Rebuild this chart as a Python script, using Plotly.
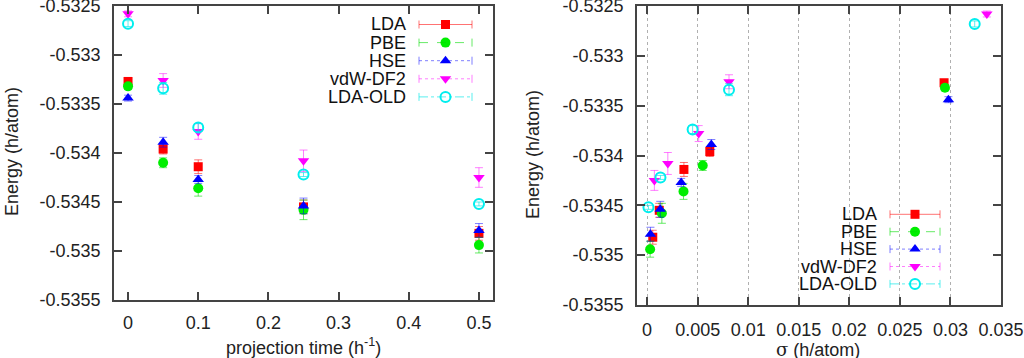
import plotly.graph_objects as go

# ---------------- data ----------------
proj_time = [0.0, 0.05, 0.1, 0.25, 0.5]
series_names = ["LDA", "PBE", "HSE", "vdW-DF2", "LDA-OLD"]

energy_lda = [-0.53327, -0.53396, -0.53414, -0.53455, -0.53482]
energy_pbe = [-0.53332, -0.53410, -0.53436, -0.53458, -0.53494]
energy_hse = [-0.53344, -0.53389, -0.53427, -0.53454, -0.53479]
energy_vdw = [-0.53258, -0.53326, -0.53378, -0.53408, -0.53425]
energy_old = [-0.53268, -0.53334, -0.53374, -0.53422, -0.53452]

err_lda = [0.00003, 0.00005, 0.00007, 0.00007, 0.00007]
err_pbe = [0.00003, 0.00005, 0.00008, 0.00010, 0.00008]
err_hse = [0.00003, 0.00005, 0.00004, 0.00008, 0.00007]
err_vdw = [0.00003, 0.00007, 0.00008, 0.00011, 0.00010]
err_old = [0.00003, 0.00006, 0.00004, 0.00002, 0.00002]

sigma_lda = [0.02937, 0.0062, 0.00364, 0.0012, 0.00056]
sigma_pbe = [0.02946, 0.0055, 0.0036, 0.00146, 0.0003]
sigma_hse = [0.0298, 0.00635, 0.00337, 0.0013, 0.00033]
sigma_vdw = [0.0336, 0.0081, 0.0051, 0.00205, 0.00072]
sigma_old = [0.0324, 0.0081, 0.0045, 0.00132, 0.00013]

y_tickvals = [-0.5325, -0.533, -0.5335, -0.534, -0.5345, -0.535, -0.5355]
y_ticktext = ["-0.5325", "-0.533", "-0.5335", "-0.534", "-0.5345", "-0.535", "-0.5355"]
x1_tickvals = [0, 0.1, 0.2, 0.3, 0.4, 0.5]
x1_ticktext = ["0", "0.1", "0.2", "0.3", "0.4", "0.5"]
x2_tickvals = [0, 0.005, 0.01, 0.015, 0.02, 0.025, 0.03, 0.035]
x2_ticktext = ["0", "0.005", "0.01", "0.015", "0.02", "0.025", "0.03", "0.035"]

# ---------------- styles ----------------
energies = [energy_lda, energy_pbe, energy_hse, energy_vdw, energy_old]
errors = [err_lda, err_pbe, err_hse, err_vdw, err_old]
sigmas = [sigma_lda, sigma_pbe, sigma_hse, sigma_vdw, sigma_old]
colors = ["#ff0000", "#00ee00", "#0000ff", "#ff00ff", "#00eeee"]
light = ["rgba(255,0,0,0.55)", "rgba(0,220,0,0.6)", "rgba(0,0,255,0.5)",
         "rgba(255,0,255,0.5)", "rgba(0,230,230,0.65)"]
symbols = ["square", "circle", "triangle-up", "triangle-down", "circle-open-dot"]
sizes = [9, 10, 10, 10, 10]
dashes = ["solid", "dash", "3px,3px", "dot", "dashdot"]

W, H = 1024, 358
FONT = "Liberation Sans, Arial, Helvetica, sans-serif"
FS = 18

def px(x):
    return x / W

def py(y):
    return 1 - y / H

fig = go.Figure()

def marker_for(i):
    if symbols[i] == "circle-open-dot":
        return dict(symbol="circle-open", size=sizes[i], color=colors[i], line=dict(width=2, color=colors[i]))
    return dict(symbol=symbols[i], size=sizes[i], color=colors[i], line=dict(width=0))

for i in range(5):
    fig.add_trace(go.Scatter(
        x=proj_time, y=energies[i], mode="markers", xaxis="x", yaxis="y",
        marker=marker_for(i), showlegend=False, cliponaxis=False,
        error_y=dict(type="data", array=errors[i], visible=True, color=light[i], thickness=1, width=4)))
    fig.add_trace(go.Scatter(
        x=sigmas[i], y=energies[i], mode="markers", xaxis="x2", yaxis="y2",
        marker=marker_for(i), showlegend=False, cliponaxis=False,
        error_y=dict(type="data", array=errors[i], visible=True, color=light[i], thickness=1, width=4)))

# ---------------- axes ----------------
axis_common = dict(showline=True, linecolor="#444444", linewidth=1.5, mirror="ticks",
                   ticks="inside", ticklen=8, tickwidth=1.5, tickcolor="#444444",
                   zeroline=False, automargin=False, ticklabeloverflow="allow",
                   tickfont=dict(family=FONT, size=FS, color="#222222"))

eps = 1e-9
fig.update_layout(
    width=W, height=H, margin=dict(l=0, r=0, t=0, b=0),
    paper_bgcolor="white", plot_bgcolor="rgba(0,0,0,0)",
    xaxis=dict(domain=[px(114), px(493)], range=[-0.02, 0.52], anchor="y",
               tickvals=x1_tickvals, ticktext=x1_ticktext, showgrid=False,
               ticklabelstandoff=6, **axis_common),
    yaxis=dict(domain=[py(300), py(6)], range=[-0.5355 - eps, -0.5325 + eps], anchor="x",
               tickvals=y_tickvals, ticktext=y_ticktext, showgrid=False,
               ticklabelstandoff=8, **axis_common),
    xaxis2=dict(domain=[px(637), px(1001)], range=[-0.001, 0.035 + eps], anchor="y2",
                tickvals=x2_tickvals, ticktext=x2_ticktext, showgrid=True,
                gridcolor="#b0b0b0", griddash="dot", gridwidth=1,
                ticklabelstandoff=8, **axis_common),
    yaxis2=dict(domain=[py(305), py(6)], range=[-0.5355 - eps, -0.5325 + eps], anchor="x2",
                tickvals=y_tickvals, ticktext=y_ticktext, showgrid=False,
                ticklabelstandoff=8, **axis_common),
    xaxis3=dict(domain=[0, 1], range=[0, 1], visible=False, anchor="y3", fixedrange=True, automargin=False),
    yaxis3=dict(domain=[0, 1], range=[0, 1], visible=False, anchor="x3", fixedrange=True, automargin=False),
)

# ---------------- axis titles ----------------
title_font = dict(family=FONT, size=FS, color="#222222")
ann = []
ann.append(dict(text="Energy (h/atom)", x=px(12), y=py(152), xref="paper", yref="paper",
                textangle=-90, showarrow=False, font=title_font, xanchor="center", yanchor="middle"))
ann.append(dict(text="Energy (h/atom)", x=px(533), y=py(155), xref="paper", yref="paper",
                textangle=-90, showarrow=False, font=title_font, xanchor="center", yanchor="middle"))
ann.append(dict(text="projection time (h<sup>-1</sup>)", x=px(303), y=py(346), xref="paper", yref="paper",
                showarrow=False, font=title_font, xanchor="center", yanchor="middle"))
ann.append(dict(text="<span style='font-family:DejaVu Serif, serif'>σ</span> (h/atom)", x=px(818), y=py(349),
                xref="paper", yref="paper", showarrow=False, font=title_font,
                xanchor="center", yanchor="middle"))

# ---------------- custom gnuplot-like legends ----------------
legend_boxes = [
    dict(text_right=408, x0=419, x1=472, y0=24.5, dy=18.1),
    dict(text_right=879, x0=890, x1=940, y0=214.3, dy=17.4),
]
shapes = []
leg_font = dict(family=FONT, size=FS, color="#111111")
for lb in legend_boxes:
    for i, name in enumerate(series_names):
        yy = lb["y0"] + i * lb["dy"]
        ann.append(dict(text=name, x=px(lb["text_right"]), y=py(yy), xref="paper", yref="paper",
                        showarrow=False, font=leg_font, xanchor="right", yanchor="middle"))
        shapes.append(dict(type="line", xref="paper", yref="paper", x0=px(lb["x0"]), x1=px(lb["x1"]),
                           y0=py(yy), y1=py(yy), line=dict(color=light[i], width=1, dash=dashes[i])))
        for xe in (lb["x0"], lb["x1"]):
            shapes.append(dict(type="line", xref="paper", yref="paper", x0=px(xe), x1=px(xe),
                               y0=py(yy - 4), y1=py(yy + 4), line=dict(color=light[i], width=1)))
    for i in range(5):
        yy = lb["y0"] + i * lb["dy"]
        fig.add_trace(go.Scatter(x=[px((lb["x0"] + lb["x1"]) / 2)], y=[py(yy)], mode="markers",
                                 xaxis="x3", yaxis="y3", marker=marker_for(i), showlegend=False,
                                 hoverinfo="skip"))

fig.update_layout(annotations=ann, shapes=shapes, hovermode=False)
fig.write_html("out.html", config={"displayModeBar": False},
               post_script="document.body.style.margin='0';document.body.style.overflow='hidden';")
